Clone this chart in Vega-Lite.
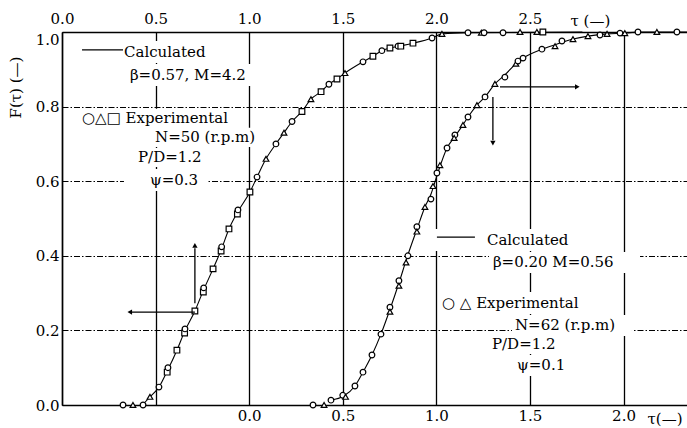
{
  "$schema": "https://vega.github.io/schema/vega-lite/v6.json",
  "width": 625,
  "height": 373,
  "autosize": {"type": "none"},
  "padding": {"left": 62, "top": 32, "right": 0, "bottom": 23},
  "background": "white",
  "config": {
    "view": {"stroke": null},
    "axis": {
      "labelFont": "DejaVu Serif", "labelFontSize": 15, "labelColor": "black",
      "titleFont": "DejaVu Serif", "titleFontSize": 15, "titleFontWeight": "normal", "titleColor": "black",
      "domainColor": "black", "domainWidth": 1.5, "ticks": false,
      "labelFlush": false, "labelOverlap": false, "gridColor": "black", "gridOpacity": 1
    }
  },
  "datasets": {
    "leftPts": [
      {"x": 0.326, "F": 0, "s": "circle"}, {"x": 0.379, "F": 0, "s": "triangle-up"}, {"x": 0.433, "F": 0, "s": "circle"},
      {"x": 0.47, "F": 0.022, "s": "triangle-up"}, {"x": 0.518, "F": 0.048, "s": "circle"},
      {"x": 0.562, "F": 0.088, "s": "square"}, {"x": 0.566, "F": 0.1, "s": "circle"},
      {"x": 0.614, "F": 0.147, "s": "square"},
      {"x": 0.655, "F": 0.193, "s": "square"}, {"x": 0.657, "F": 0.204, "s": "circle"},
      {"x": 0.71, "F": 0.252, "s": "square"},
      {"x": 0.755, "F": 0.303, "s": "square"}, {"x": 0.757, "F": 0.314, "s": "circle"},
      {"x": 0.807, "F": 0.365, "s": "square"},
      {"x": 0.85, "F": 0.413, "s": "square"}, {"x": 0.853, "F": 0.424, "s": "circle"},
      {"x": 0.892, "F": 0.472, "s": "square"},
      {"x": 0.937, "F": 0.512, "s": "square"}, {"x": 0.94, "F": 0.523, "s": "circle"},
      {"x": 1.004, "F": 0.571, "s": "square"}, {"x": 1.042, "F": 0.611, "s": "circle"},
      {"x": 1.09, "F": 0.66, "s": "triangle-up"}, {"x": 1.143, "F": 0.7, "s": "circle"},
      {"x": 1.186, "F": 0.73, "s": "triangle-up"}, {"x": 1.229, "F": 0.76, "s": "circle"},
      {"x": 1.282, "F": 0.787, "s": "square"}, {"x": 1.33, "F": 0.82, "s": "triangle-up"},
      {"x": 1.384, "F": 0.84, "s": "square"}, {"x": 1.426, "F": 0.86, "s": "circle"},
      {"x": 1.469, "F": 0.874, "s": "square"}, {"x": 1.512, "F": 0.89, "s": "triangle-up"},
      {"x": 1.608, "F": 0.92, "s": "circle"}, {"x": 1.661, "F": 0.935, "s": "square"},
      {"x": 1.709, "F": 0.95, "s": "circle"}, {"x": 1.752, "F": 0.957, "s": "square"},
      {"x": 1.795, "F": 0.962, "s": "circle"}, {"x": 1.81, "F": 0.962, "s": "square"},
      {"x": 1.875, "F": 0.97, "s": "square"}, {"x": 1.977, "F": 0.984, "s": "circle"},
      {"x": 2.03, "F": 0.995, "s": "triangle-up"}, {"x": 2.169, "F": 0.998, "s": "circle"},
      {"x": 2.24, "F": 0.998, "s": "triangle-up"}, {"x": 2.255, "F": 0.998, "s": "circle"},
      {"x": 2.356, "F": 0.998, "s": "circle"}, {"x": 2.447, "F": 1, "s": "triangle-up"},
      {"x": 2.537, "F": 1, "s": "triangle-up"}, {"x": 2.569, "F": 1, "s": "square"}
    ],
    "leftCalc": [
      {"x": 0.43, "F": 0.0}, {"x": 0.47, "F": 0.022}, {"x": 0.518, "F": 0.048}, {"x": 0.564, "F": 0.093},
      {"x": 0.614, "F": 0.147}, {"x": 0.656, "F": 0.198}, {"x": 0.71, "F": 0.252}, {"x": 0.756, "F": 0.308},
      {"x": 0.807, "F": 0.365}, {"x": 0.852, "F": 0.418}, {"x": 0.892, "F": 0.472}, {"x": 0.938, "F": 0.517},
      {"x": 1.004, "F": 0.571}, {"x": 1.042, "F": 0.611}, {"x": 1.09, "F": 0.66}, {"x": 1.143, "F": 0.7},
      {"x": 1.186, "F": 0.73}, {"x": 1.229, "F": 0.76}, {"x": 1.282, "F": 0.787}, {"x": 1.33, "F": 0.82},
      {"x": 1.384, "F": 0.84}, {"x": 1.426, "F": 0.86}, {"x": 1.469, "F": 0.874}, {"x": 1.512, "F": 0.89},
      {"x": 1.608, "F": 0.92}, {"x": 1.661, "F": 0.935}, {"x": 1.709, "F": 0.95}, {"x": 1.752, "F": 0.957},
      {"x": 1.8, "F": 0.962}, {"x": 1.875, "F": 0.97}, {"x": 1.977, "F": 0.984}, {"x": 2.03, "F": 0.995},
      {"x": 2.169, "F": 0.998}, {"x": 2.78, "F": 1.0}
    ],
    "rightPts": [
      {"x": 0.341, "F": 0, "s": "circle"}, {"x": 0.4, "F": 0, "s": "triangle-up"}, {"x": 0.437, "F": 0.013, "s": "circle"},
      {"x": 0.5, "F": 0.026, "s": "circle"}, {"x": 0.515, "F": 0.022, "s": "triangle-up"},
      {"x": 0.565, "F": 0.051, "s": "circle"}, {"x": 0.608, "F": 0.088, "s": "circle"},
      {"x": 0.656, "F": 0.134, "s": "circle"}, {"x": 0.704, "F": 0.19, "s": "circle"},
      {"x": 0.752, "F": 0.262, "s": "circle"}, {"x": 0.752, "F": 0.25, "s": "triangle-up"},
      {"x": 0.8, "F": 0.333, "s": "circle"}, {"x": 0.8, "F": 0.32, "s": "triangle-up"},
      {"x": 0.848, "F": 0.4, "s": "circle"}, {"x": 0.838, "F": 0.382, "s": "triangle-up"},
      {"x": 0.896, "F": 0.478, "s": "circle"}, {"x": 0.896, "F": 0.465, "s": "triangle-up"},
      {"x": 0.939, "F": 0.531, "s": "triangle-up"}, {"x": 0.971, "F": 0.552, "s": "circle"},
      {"x": 0.982, "F": 0.587, "s": "triangle-up"}, {"x": 1.003, "F": 0.622, "s": "circle"},
      {"x": 1.019, "F": 0.643, "s": "triangle-up"}, {"x": 1.057, "F": 0.689, "s": "circle"},
      {"x": 1.099, "F": 0.724, "s": "circle"}, {"x": 1.095, "F": 0.716, "s": "triangle-up"},
      {"x": 1.142, "F": 0.751, "s": "triangle-up"}, {"x": 1.169, "F": 0.772, "s": "circle"},
      {"x": 1.217, "F": 0.804, "s": "triangle-up"}, {"x": 1.26, "F": 0.826, "s": "circle"},
      {"x": 1.313, "F": 0.861, "s": "triangle-up"}, {"x": 1.366, "F": 0.879, "s": "circle"},
      {"x": 1.425, "F": 0.915, "s": "triangle-up"}, {"x": 1.436, "F": 0.922, "s": "circle"},
      {"x": 1.463, "F": 0.93, "s": "circle"}, {"x": 1.564, "F": 0.954, "s": "circle"},
      {"x": 1.634, "F": 0.962, "s": "triangle-up"}, {"x": 1.671, "F": 0.976, "s": "circle"},
      {"x": 1.73, "F": 0.981, "s": "triangle-up"}, {"x": 1.81, "F": 0.989, "s": "triangle-up"},
      {"x": 1.874, "F": 0.992, "s": "circle"}, {"x": 1.912, "F": 0.995, "s": "triangle-up"},
      {"x": 1.981, "F": 0.997, "s": "circle"}, {"x": 2.007, "F": 0.997, "s": "triangle-up"},
      {"x": 2.077, "F": 1.0, "s": "circle"}, {"x": 2.178, "F": 1.0, "s": "triangle-up"},
      {"x": 2.285, "F": 1.0, "s": "circle"}
    ],
    "rightCalc": [
      {"x": 0.437, "F": 0.013}, {"x": 0.505, "F": 0.024}, {"x": 0.565, "F": 0.051}, {"x": 0.608, "F": 0.088},
      {"x": 0.656, "F": 0.134}, {"x": 0.704, "F": 0.19}, {"x": 0.752, "F": 0.256}, {"x": 0.8, "F": 0.327},
      {"x": 0.843, "F": 0.395}, {"x": 0.896, "F": 0.471}, {"x": 0.939, "F": 0.531}, {"x": 0.971, "F": 0.565},
      {"x": 1.003, "F": 0.615}, {"x": 1.057, "F": 0.689}, {"x": 1.099, "F": 0.72}, {"x": 1.142, "F": 0.751},
      {"x": 1.169, "F": 0.772}, {"x": 1.217, "F": 0.804}, {"x": 1.26, "F": 0.826}, {"x": 1.313, "F": 0.861},
      {"x": 1.366, "F": 0.885}, {"x": 1.431, "F": 0.918}, {"x": 1.463, "F": 0.93}, {"x": 1.564, "F": 0.954},
      {"x": 1.634, "F": 0.966}, {"x": 1.73, "F": 0.981}, {"x": 1.81, "F": 0.989}, {"x": 1.912, "F": 0.995},
      {"x": 2.007, "F": 0.997}, {"x": 2.077, "F": 1.0}, {"x": 2.339, "F": 1.0}
    ],
    "boxes": [
      {"x": 0.096, "x2": 0.801, "F": 0.917, "F2": 0.976},
      {"x": 0.347, "x2": 1.165, "F": 0.855, "F2": 0.914},
      {"x": 0.091, "x2": 0.919, "F": 0.74, "F2": 0.794},
      {"x": 0.481, "x2": 1.1, "F": 0.692, "F2": 0.743},
      {"x": 0.39, "x2": 0.812, "F": 0.638, "F2": 0.689},
      {"x": 0.331, "x2": 0.78, "F": 0.574, "F2": 0.633},
      {"x": 1.987, "x2": 2.756, "F": 0.413, "F2": 0.472},
      {"x": 2.281, "x2": 3.088, "F": 0.354, "F2": 0.41},
      {"x": 2.019, "x2": 2.842, "F": 0.244, "F2": 0.303},
      {"x": 2.404, "x2": 3.045, "F": 0.185, "F2": 0.241},
      {"x": 2.281, "x2": 2.724, "F": 0.137, "F2": 0.188},
      {"x": 2.415, "x2": 2.756, "F": 0.078, "F2": 0.134}
    ],
    "texts": [
      {"x": 0.331, "F": 0.946, "t": "Calculated"},
      {"x": 0.363, "F": 0.885, "t": "β=0.57,  M=4.2"},
      {"x": 0.107, "F": 0.769, "t": "○△□ Experimental"},
      {"x": 0.497, "F": 0.718, "t": "N=50  (r.p.m)"},
      {"x": 0.406, "F": 0.665, "t": "P/D=1.2"},
      {"x": 0.47, "F": 0.603, "t": "ψ=0.3"},
      {"x": 2.27, "F": 0.442, "t": "Calculated"},
      {"x": 2.302, "F": 0.383, "t": "β=0.20  M=0.56"},
      {"x": 2.03, "F": 0.273, "t": "○ △  Experimental"},
      {"x": 2.42, "F": 0.214, "t": "N=62  (r.p.m)"},
      {"x": 2.297, "F": 0.164, "t": "P/D=1.2"},
      {"x": 2.431, "F": 0.107, "t": "ψ=0.1"}
    ],
    "segsTop": [
      {"x": 0.107, "x2": 0.326, "F": 0.952, "F2": 0.952},
      {"x": 2.003, "x2": 2.206, "F": 0.45, "F2": 0.45},
      {"x": 0.37, "x2": 0.71, "F": 0.249, "F2": 0.249},
      {"x": 0.71, "x2": 0.71, "F": 0.273, "F2": 0.42}
    ],
    "headsTop": [
      {"x": 0.362, "F": 0.249, "s": "triangle-left"},
      {"x": 0.71, "F": 0.428, "s": "triangle-up"}
    ],
    "segsBot": [
      {"x": 1.34, "x2": 1.745, "F": 0.853, "F2": 0.853},
      {"x": 1.302, "x2": 1.302, "F": 0.826, "F2": 0.71}
    ],
    "headsBot": [
      {"x": 1.753, "F": 0.853, "s": "triangle-right"},
      {"x": 1.302, "F": 0.702, "s": "triangle-down"}
    ]
  },
  "encoding": {
    "y": {
      "field": "F", "type": "quantitative",
      "scale": {"domain": [0, 1], "nice": false, "zero": false},
      "axis": {
        "values": [0, 0.2, 0.4, 0.6, 0.8, 1], "format": ".1f",
        "title": "F(τ)  (—)", "titleX": -47, "titleY": 55, "titleAngle": -90,
        "titleAlign": "center", "titleBaseline": "middle",
        "grid": true, "gridDash": [6, 2, 1.5, 2], "gridWidth": 1, "labelPadding": 3,
        "labelBaseline": {"condition": {"test": "datum.value == 1", "value": "top"}, "value": "middle"}
      }
    }
  },
  "layer": [
    {
      "encoding": {
        "x": {
          "field": "x", "type": "quantitative",
          "scale": {"domain": [0, 3.339], "nice": false, "zero": false},
          "axis": {
            "orient": "top", "values": [0, 0.5, 1, 1.5, 2, 2.5, 3],
            "labelExpr": "datum.value == 3 ? '' : format(datum.value, '.1f')",
            "grid": true, "gridWidth": 1.3, "labelPadding": 6,
            "title": "τ (—)", "titleX": 508, "titleY": -7, "titleAlign": "left",
            "titleBaseline": "alphabetic", "titleAngle": 0
          }
        }
      },
      "layer": [
        {"data": {"name": "boxes"}, "mark": {"type": "rect", "fill": "white"},
         "encoding": {"x2": {"field": "x2"}, "y2": {"field": "F2"}}},
        {"data": {"name": "leftCalc"}, "mark": {"type": "line", "color": "black", "strokeWidth": 1.1, "interpolate": "monotone"},
         "encoding": {}},
        {"data": {"name": "leftPts"}, "mark": {"type": "point", "fill": "white", "stroke": "black", "strokeWidth": 1.2, "size": 32, "opacity": 1},
         "encoding": {"shape": {"field": "s", "type": "nominal", "scale": null}}},
        {"data": {"name": "segsTop"}, "mark": {"type": "rule", "color": "black", "strokeWidth": 1.3},
         "encoding": {"x2": {"field": "x2"}, "y2": {"field": "F2"}}},
        {"data": {"name": "headsTop"}, "mark": {"type": "point", "filled": true, "color": "black", "size": 28, "opacity": 1},
         "encoding": {"shape": {"field": "s", "type": "nominal", "scale": null}}},
        {"data": {"name": "texts"}, "mark": {"type": "text", "align": "left", "baseline": "middle", "font": "DejaVu Serif", "fontSize": 15, "color": "black"},
         "encoding": {"text": {"field": "t"}}}
      ]
    },
    {
      "encoding": {
        "x": {
          "field": "x", "type": "quantitative",
          "scale": {"domain": [-1, 2.339], "nice": false, "zero": false},
          "axis": {
            "orient": "bottom", "values": [0, 0.5, 1, 1.5, 2], "format": ".1f",
            "grid": false, "labelPadding": 3,
            "title": "τ(—)", "titleX": 585, "titleY": 18, "titleAlign": "left",
            "titleBaseline": "alphabetic", "titleAngle": 0
          }
        }
      },
      "layer": [
        {"data": {"name": "rightCalc"}, "mark": {"type": "line", "color": "black", "strokeWidth": 1.1, "interpolate": "monotone"},
         "encoding": {}},
        {"data": {"name": "rightPts"}, "mark": {"type": "point", "fill": "white", "stroke": "black", "strokeWidth": 1.2, "size": 32, "opacity": 1},
         "encoding": {"shape": {"field": "s", "type": "nominal", "scale": null}}},
        {"data": {"name": "segsBot"}, "mark": {"type": "rule", "color": "black", "strokeWidth": 1.3},
         "encoding": {"x2": {"field": "x2"}, "y2": {"field": "F2"}}},
        {"data": {"name": "headsBot"}, "mark": {"type": "point", "filled": true, "color": "black", "size": 28, "opacity": 1},
         "encoding": {"shape": {"field": "s", "type": "nominal", "scale": null}}}
      ]
    }
  ],
  "resolve": {"scale": {"x": "independent"}, "axis": {"x": "independent"}}
}
